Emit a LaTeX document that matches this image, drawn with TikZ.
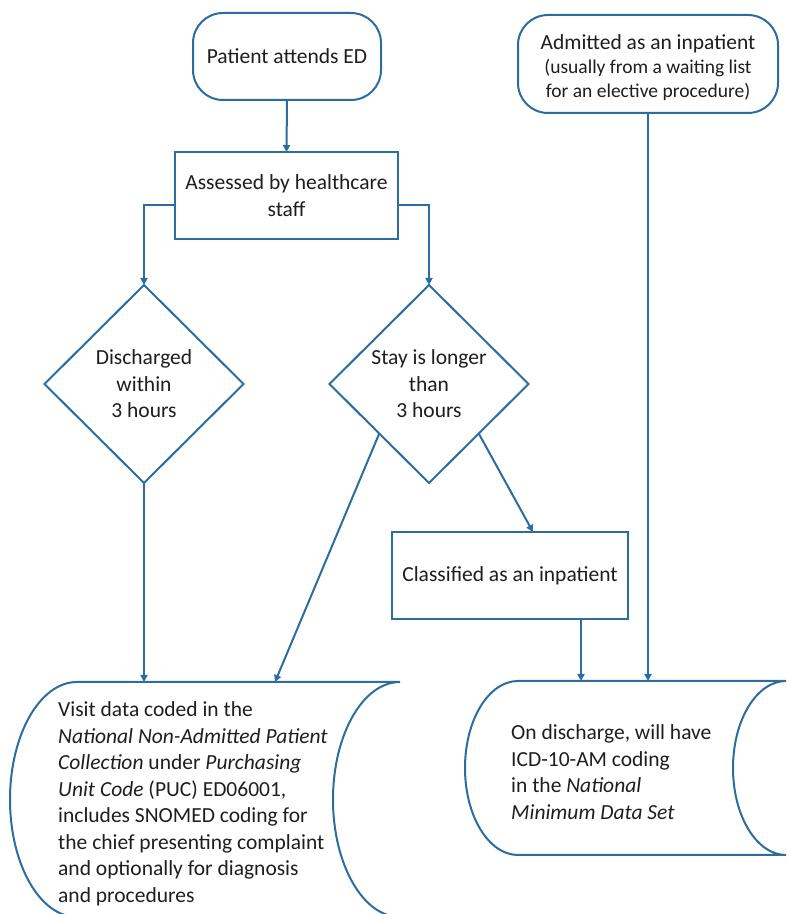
\documentclass[tikz,border=0pt]{standalone}
\usepackage{fontspec}
\setmainfont{Carlito}
\usetikzlibrary{shapes.geometric,arrows.meta}
\definecolor{edge}{RGB}{44,108,158}
\definecolor{ink}{RGB}{30,30,30}
\tikzset{
  box/.style={draw=edge,line width=2pt,fill=white,text=ink,align=center,inner sep=0pt,outer sep=0pt,font=\fontsize{21.5}{26.5}\selectfont},
  term/.style={box,rounded corners=30pt},
  decide/.style={box,diamond,minimum width=199pt,minimum height=198pt},
  arr/.style={draw=edge,line width=2pt,-{Triangle[length=7pt,width=7pt]}},
  store/.style={draw=edge,line width=2pt},
  txt/.style={text=ink,align=left,inner sep=0pt,font=\fontsize{21.5}{26.5}\selectfont}
}
\begin{document}
\begin{tikzpicture}[x=1pt,y=1pt]
\useasboundingbox (0,0) rectangle (787,914);
% terminals
\node[term,minimum width=188pt,minimum height=87pt] (patient) at (287,857.5) {Patient attends ED};
\node[term,minimum width=260pt,minimum height=98pt] (admitted) at (648,850) {};
\node[text=ink,align=center,inner sep=0pt,font=\fontsize{21.5}{24}\selectfont] (admtext) at (648,846)
 {Admitted as an inpatient\\{\fontsize{19.5}{24}\selectfont (usually from a waiting list}\\{\fontsize{19.5}{24}\selectfont for an elective procedure)}};
% process
\node[box,minimum width=223pt,minimum height=87pt] (assessed) at (286.5,718.5) {Assessed by healthcare\\staff};
\node[decide] (ld) at (144,530) {Discharged\\within\\3 hours};
\node[decide] (rd) at (429,530) {Stay is longer\\than\\3 hours};
\node[box,minimum width=236pt,minimum height=87pt] (cl) at (510,338.5) {Classified as an inpatient};
% stored data shapes
\draw[store] (77,232) -- (400,232) arc[start angle=90,end angle=270,x radius=67,y radius=117.5]
  -- (77,-3) arc[start angle=270,end angle=90,x radius=67,y radius=117.5] -- cycle;
\draw[store] (518,233) -- (786,233) arc[start angle=90,end angle=270,x radius=53,y radius=87]
  -- (518,59) arc[start angle=270,end angle=90,x radius=53,y radius=87] -- cycle;
\node[txt,anchor=west] (lstore) at (58,110) {Visit data coded in the\\
\textit{National Non-Admitted Patient}\\
\textit{Collection} under \textit{Purchasing}\\
\textit{Unit Code} (PUC) ED06001,\\
includes SNOMED coding for\\
the chief presenting complaint\\
and optionally for diagnosis\\
and procedures};
\node[txt,anchor=west] (rstore) at (511,142) {On discharge, will have\\
ICD-10-AM coding\\
in the \textit{National}\\
\textit{Minimum Data Set}};
\coordinate (ls1) at (144,232);
\coordinate (ls2) at (275,232);
\coordinate (rs1) at (581,233);
\coordinate (rs2) at (648,233);
% connectors
\draw[arr] (patient.south) -- (assessed.north);
\draw[arr] ([yshift=-9.5pt]assessed.west) -| (ld.north);
\draw[arr] ([yshift=-9.5pt]assessed.east) -| (rd.north);
\draw[arr] (ld.south) -- (ls1);
\draw[arr] (rd.south west) -- (ls2);
\draw[arr] (rd.south east) -- ([xshift=23pt]cl.north);
\draw[arr] ([xshift=71pt]cl.south) -- (rs1);
\draw[arr] (admitted.south) -- (rs2);
\end{tikzpicture}
\end{document}
